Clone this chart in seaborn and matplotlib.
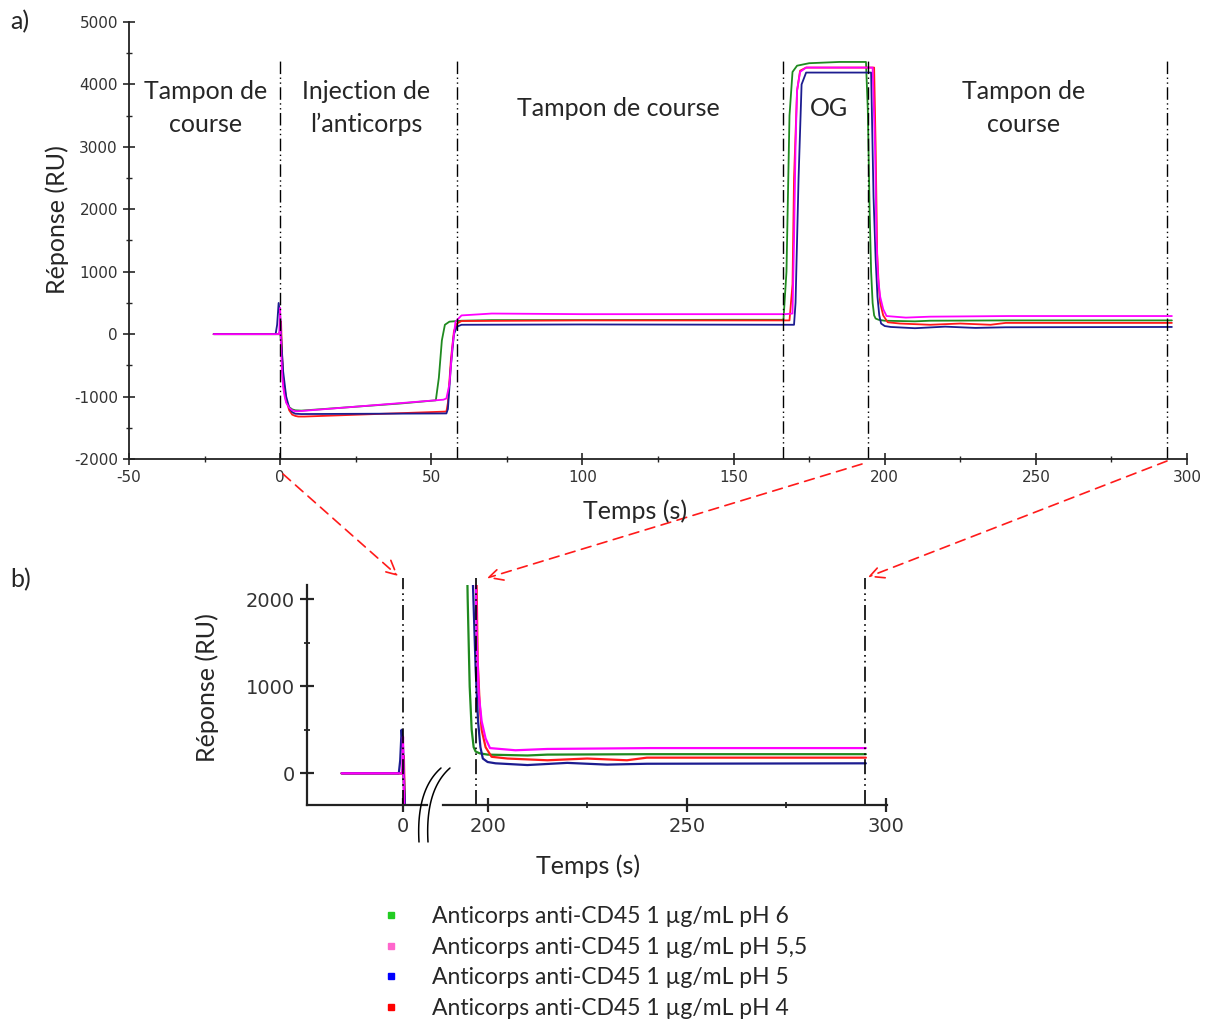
import numpy as np
import pandas as pd
import matplotlib
matplotlib.use("Agg")
import matplotlib.pyplot as plt
from matplotlib.lines import Line2D
from matplotlib.ticker import MultipleLocator, FixedLocator
import seaborn as sns

# ---------------- data ----------------
series_names = ["Anticorps anti-CD45 1 µg/mL pH 6",
                "Anticorps anti-CD45 1 µg/mL pH 5,5",
                "Anticorps anti-CD45 1 µg/mL pH 5",
                "Anticorps anti-CD45 1 µg/mL pH 4"]

t_ph6 = [-22, -0.5, 0, 0.5, 1, 1.5, 2, 3, 4, 5, 7, 20, 40, 51.5, 52.5, 53.5, 54.5, 56, 60, 70,
         100, 150, 166.5, 167.5, 168.5, 169.5, 171, 175, 185, 193.8, 194.4, 195, 195.5, 196, 196.5,
         197, 198, 200, 210, 215, 240, 295]
r_ph6 = [0, 0, 50, -300, -700, -950, -1080, -1170, -1205, -1220, -1225, -1180, -1110, -1060, -700,
         -100, 150, 200, 215, 225, 225, 230, 230, 1000, 3500, 4200, 4300, 4340, 4360, 4360, 3600,
         2000, 1000, 500, 300, 250, 230, 215, 205, 215, 220, 220]

t_ph55 = [-22, -0.3, 0, 0.3, 0.6, 1, 1.5, 2, 3, 4, 5, 6, 54, 55, 56, 57, 58, 60, 70, 100, 167,
          169.5, 170, 170.5, 171, 172, 174, 196, 196.8, 197.3, 197.8, 198.5, 199.5, 200.6, 207,
          215, 241, 295]
r_ph55 = [0, 0, 420, -200, -600, -850, -1000, -1100, -1180, -1220, -1235, -1235, -1050, -1030,
          -800, -200, 200, 300, 330, 320, 320, 330, 1500, 3000, 3900, 4200, 4270, 4270, 3000, 1500,
          900, 600, 400, 290, 265, 280, 290, 290]

t_ph5 = [-22, -1.5, -1, -0.5, 0, 0.5, 1, 2, 3, 4, 5, 7, 55, 55.5, 56.5, 57.5, 58.5, 60, 100, 170,
         170.5, 171.5, 172.5, 174, 195.5, 196.3, 197, 197.6, 198.2, 198.8, 200, 202, 210, 220, 230,
         240, 295]
r_ph5 = [0, 0, 150, 500, 300, -200, -600, -1000, -1180, -1250, -1275, -1280, -1270, -1200, -500,
         0, 120, 150, 155, 150, 500, 2500, 4000, 4190, 4190, 2200, 1200, 600, 300, 170, 130, 115,
         95, 120, 100, 110, 115]

t_ph4 = [-22, 0, 0.3, 0.6, 1, 2, 3, 4, 5, 6, 8, 55, 55.5, 56.5, 57.5, 58.5, 60, 100, 168.5, 169.5,
         170, 171, 172, 174, 196.5, 197, 197.5, 198, 198.5, 199.5, 201, 205, 215, 225, 235, 240, 295]
r_ph4 = [0, 0, 200, -300, -700, -1050, -1220, -1290, -1310, -1320, -1320, -1240, -1100, -400, 50,
         170, 210, 220, 220, 800, 2500, 3900, 4220, 4270, 4270, 3000, 1300, 800, 500, 300, 190,
         170, 150, 170, 150, 180, 180]

line_colors = ["#1f8a1f", "#ff00ff", "#1c1c90", "#ff1a1a"]
legend_colors = ["#22cc22", "#ff66cc", "#0000ff", "#ff0000"]

# phase boundaries and labels
phase_lines_a = [0, 58.6, 166.3, 194.4, 293.5]
phase_lines_b = [0, 197.0, 294.8]
phase_labels = ["Tampon de\ncourse", "Injection de\nl’anticorps", "Tampon de course", "OG",
                "Tampon de\ncourse"]
phase_label_x = [-24.8, 28.5, 112, 181.5, 246]

# ---------------- build long table ----------------
frames = []
for name, t, r in zip(series_names, [t_ph6, t_ph55, t_ph5, t_ph4],
                      [r_ph6, r_ph55, r_ph5, r_ph4]):
    frames.append(pd.DataFrame({"t": t, "r": r, "serie": name}))
df = pd.concat(frames, ignore_index=True)
# draw order: green, red, blue, magenta
order = [series_names[0], series_names[3], series_names[2], series_names[1]]
palette = dict(zip(series_names, line_colors))

sns.set_style("ticks")
plt.rcParams["font.family"] = ["Lato", "DejaVu Sans"]
plt.rcParams["axes.unicode_minus"] = False

W, H = 1209, 1019
fig = plt.figure(figsize=(W / 100, H / 100), dpi=100)

def fx(px):
    return px / W

def fy(py):
    return 1 - py / H

TXT = 18
TICKC = "#333333"
DASHDOT = (0, (9, 2.5, 1, 2.5, 1, 2.5))

def draw_series(ax, lw):
    for name in order:
        sub = df[df["serie"] == name]
        sns.lineplot(data=sub, x="t", y="r", color=palette[name], estimator=None, sort=False,
                     lw=lw, ax=ax, legend=False)

# ---------------- panel a ----------------
axa = fig.add_axes([fx(129), fy(459), fx(1187 - 129), (459 - 22) / H])
draw_series(axa, 1.3)
axa.set_xlim(-50, 300)
axa.set_ylim(-2000, 5000)
axa.xaxis.set_major_locator(MultipleLocator(50))
axa.xaxis.set_minor_locator(MultipleLocator(25))
axa.yaxis.set_major_locator(MultipleLocator(1000))
axa.yaxis.set_minor_locator(MultipleLocator(500))
axa.tick_params(which="major", direction="inout", length=8, width=1.2,
                labelsize=11, labelcolor=TICKC, pad=4)
axa.tick_params(which="minor", direction="inout", length=4, width=1)
for lab in axa.get_xticklabels() + axa.get_yticklabels():
    lab.set_family("DejaVu Sans")
for s in ["top", "right"]:
    axa.spines[s].set_visible(False)
for s in ["left", "bottom"]:
    axa.spines[s].set_linewidth(1.3)
    axa.spines[s].set_color("#222222")
axa.vlines(phase_lines_a, -2000, 4400, colors="black", lw=1.0, linestyles=[DASHDOT])
for lab, x in zip(phase_labels, phase_label_x):
    axa.text(x, 3620, lab, ha="center", va="center", fontsize=TXT, linespacing=1.5)
axa.set_xlabel("")
axa.set_ylabel("")
fig.text(fx(635), fy(511), "Temps (s)", ha="center", va="center", fontsize=TXT)
fig.text(fx(57), fy(220), "Réponse (RU)", ha="center", va="center", fontsize=TXT, rotation=90)

# ---------------- panel b ----------------
ybl, ybt = -364, 2164
axb1 = fig.add_axes([fx(307), fy(805), fx(427 - 307), (805 - 585) / H])
axb2 = fig.add_axes([fx(443), fy(805), fx(887 - 443), (805 - 585) / H])
for ax in (axb1, axb2):
    draw_series(ax, 1.6)
    ax.set_ylim(ybl, ybt)
    ax.set_xlabel("")
    ax.set_ylabel("")
    for s in ["top", "right"]:
        ax.spines[s].set_visible(False)
    for s in ["left", "bottom"]:
        ax.spines[s].set_linewidth(1.6)
        ax.spines[s].set_color("#222222")
    ax.tick_params(which="major", direction="inout", length=10, width=1.6,
                   labelsize=14, labelcolor=TICKC, pad=4)
    ax.tick_params(which="minor", direction="inout", length=5, width=1.3)
axb1.set_xlim(-34.4, 8.6)
axb1.xaxis.set_major_locator(FixedLocator([0]))
axb1.yaxis.set_major_locator(MultipleLocator(1000))
axb1.yaxis.set_minor_locator(MultipleLocator(500))
axb2.set_xlim(188.8, 300.3)
axb2.xaxis.set_major_locator(FixedLocator([200, 250, 300]))
axb2.xaxis.set_minor_locator(FixedLocator([225, 275]))
axb2.spines["left"].set_visible(False)
axb2.tick_params(axis="y", which="both", left=False, labelleft=False)
for ax in (axb1, axb2):
    for lab in ax.get_xticklabels() + ax.get_yticklabels():
        lab.set_family("DejaVu Sans")
axb1.vlines([phase_lines_b[0]], ybl, 2240, colors="black", lw=1.2,
            linestyles=[DASHDOT], clip_on=False)
axb2.vlines(phase_lines_b[1:], ybl, 2240, colors="black", lw=1.2,
            linestyles=[DASHDOT], clip_on=False)
fig.text(fx(588), fy(866), "Temps (s)", ha="center", va="center", fontsize=TXT)
fig.text(fx(207), fy(688), "Réponse (RU)", ha="center", va="center", fontsize=TXT,
         rotation=90)

# axis-break marks
s = np.linspace(0, 1, 40)
for dx in (0, 9):
    p0 = np.array([441 + dx, 768]); p1 = np.array([416 + dx, 790]); p2 = np.array([419 + dx, 842])
    pts = ((1 - s)[:, None] ** 2) * p0 + (2 * (1 - s) * s)[:, None] * p1 + (s[:, None] ** 2) * p2
    fig.add_artist(Line2D(fx(pts[:, 0]), fy(pts[:, 1]), color="black", lw=1.1,
                          transform=fig.transFigure))

# panel labels
fig.text(fx(10), fy(22), "a)", ha="left", va="center", fontsize=TXT)
fig.text(fx(10), fy(580), "b)", ha="left", va="center", fontsize=TXT)

# red dashed zoom arrows
arrows = [((283, 474), (398, 576)), ((862, 464), (487, 578)), ((1167, 461), (868, 577))]
for (x0, y0), (x1, y1) in arrows:
    fig.add_artist(matplotlib.patches.FancyArrowPatch(
        (fx(x0), fy(y0)), (fx(x1), fy(y1)), transform=fig.transFigure,
        arrowstyle="->,head_length=10,head_width=5", color="#ff1a1a", lw=1.2,
        linestyle=(0, (6, 4)), mutation_scale=1, shrinkA=0, shrinkB=0))

# legend
handles = [Line2D([], [], ls="none", marker="s", markersize=5, color=c) for c in legend_colors]
fig.legend(handles, series_names, loc="upper left", bbox_to_anchor=(fx(370), fy(897)),
           frameon=False, fontsize=16.5, handletextpad=1.3, labelspacing=0.42,
           handlelength=1.0, borderaxespad=0)

fig.savefig("out.png", dpi=100)
